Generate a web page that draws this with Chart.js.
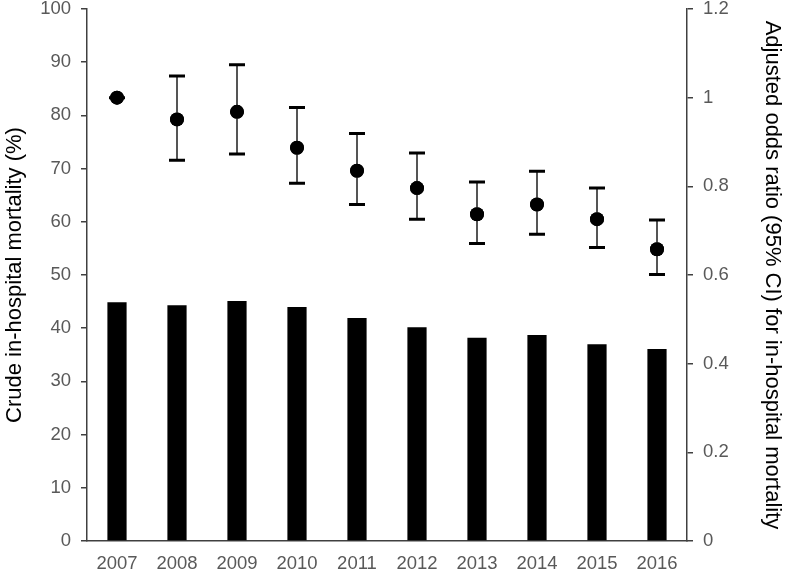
<!DOCTYPE html>
<html>
<head>
<meta charset="utf-8">
<script src="https://cdn.jsdelivr.net/npm/chart.js@4"></script>
<style>
html,body{margin:0;padding:0;background:#fff;}
#wrap{width:787px;height:572px;}
</style>
</head>
<body>
<div id="wrap"><canvas id="c" width="787" height="572"></canvas></div>
<script>
const years = ['2007','2008','2009','2010','2011','2012','2013','2014','2015','2016'];
const crudeMortality = [44.9, 44.3, 45.1, 44.0, 41.9, 40.2, 38.2, 38.7, 37.0, 36.1];
const adjustedOR = [1.0, 0.951, 0.968, 0.887, 0.835, 0.796, 0.737, 0.759, 0.726, 0.658];
const ciLower = [1.0, 0.859, 0.873, 0.807, 0.759, 0.726, 0.671, 0.692, 0.662, 0.601];
const ciUpper = [1.0, 1.049, 1.074, 0.978, 0.919, 0.875, 0.810, 0.834, 0.796, 0.724];
const leftTicks = [0,10,20,30,40,50,60,70,80,90,100];
const rightTicks = [0,0.2,0.4,0.6,0.8,1,1.2];

const FONT = "'Liberation Sans', Arial, sans-serif";
const TICK_COLOR = '#595959';
const AXIS_COLOR = '#404040';

const errorBars = {
  id: 'errorBars',
  afterDatasetsDraw(chart) {
    const ctx = chart.ctx;
    const xs = chart.scales.x, ys = chart.scales.y1;
    ctx.save();
    for (let i = 0; i < years.length; i++) {
      const x = xs.getPixelForValue(i);
      const yl = ys.getPixelForValue(ciLower[i]);
      const yu = ys.getPixelForValue(ciUpper[i]);
      ctx.strokeStyle = '#555';
      ctx.lineWidth = 2;
      ctx.beginPath(); ctx.moveTo(x, yl); ctx.lineTo(x, yu); ctx.stroke();
      ctx.strokeStyle = '#000';
      ctx.lineWidth = 3;
      ctx.beginPath();
      ctx.moveTo(x - 8, yl); ctx.lineTo(x + 8, yl);
      ctx.moveTo(x - 8, yu); ctx.lineTo(x + 8, yu);
      ctx.stroke();
    }
    ctx.restore();
    const meta = chart.getDatasetMeta(1);
    meta.data.forEach(p => p.draw(ctx, chart.chartArea));
  }
};

function fixVertical(s, w) {
  s.width = w;
  s.paddingTop = 9;
  s.paddingBottom = 0;
}

new Chart(document.getElementById('c'), {
  type: 'bar',
  data: {
    labels: years,
    datasets: [
      {
        type: 'bar',
        data: crudeMortality,
        backgroundColor: '#000',
        yAxisID: 'y',
        barPercentage: 0.32,
        categoryPercentage: 1.0,
        order: 2
      },
      {
        type: 'line',
        data: adjustedOR,
        yAxisID: 'y1',
        showLine: false,
        pointRadius: 7,
        pointHoverRadius: 7,
        pointBackgroundColor: '#000',
        pointBorderColor: '#000',
        pointBorderWidth: 0,
        clip: false,
        order: 1
      }
    ]
  },
  options: {
    responsive: false,
    animation: false,
    devicePixelRatio: 1,
    layout: { padding: { top: 0, left: 0, right: 0, bottom: 0 } },
    plugins: { legend: { display: false }, tooltip: { enabled: false } },
    scales: {
      x: {
        offset: true,
        grid: { display: false },
        border: { display: true, color: AXIS_COLOR, width: 1.5 },
        ticks: { color: TICK_COLOR, font: { family: FONT, size: 18.5 }, padding: 4, maxRotation: 0 },
        afterFit(s) { s.height = 31; s.paddingLeft = 0; s.paddingRight = 0; }
      },
      y: {
        position: 'left',
        min: 0, max: 100,
        afterBuildTicks(s) { s.ticks = leftTicks.map(v => ({ value: v })); },
        grid: { drawOnChartArea: false, drawTicks: true, tickLength: 6, color: AXIS_COLOR, lineWidth: 1.5 },
        border: { display: true, color: AXIS_COLOR, width: 1.5 },
        ticks: { color: TICK_COLOR, font: { family: FONT, size: 18.5 }, padding: 10 },
        title: { display: true, text: 'Crude in-hospital mortality (%)', color: '#000', font: { family: FONT, size: 22 }, padding: { top: 2, bottom: 2 } },
        afterFit(s) { fixVertical(s, 87); }
      },
      y1: {
        position: 'right',
        min: 0, max: 1.2,
        afterBuildTicks(s) { s.ticks = rightTicks.map(v => ({ value: v })); },
        grid: { drawOnChartArea: false, drawTicks: true, tickLength: 6, color: AXIS_COLOR, lineWidth: 1.5 },
        border: { display: true, color: AXIS_COLOR, width: 1.5 },
        ticks: { color: TICK_COLOR, font: { family: FONT, size: 18.5 }, padding: 10,
          callback: v => String(Math.round(v * 10) / 10) },
        title: { display: true, text: 'Adjusted odds ratio (95% CI) for in-hospital mortality', color: '#000', font: { family: FONT, size: 22 }, padding: { top: 2, bottom: 2 } },
        afterFit(s) { fixVertical(s, 100); }
      }
    }
  },
  plugins: [errorBars]
});
</script>
</body>
</html>
